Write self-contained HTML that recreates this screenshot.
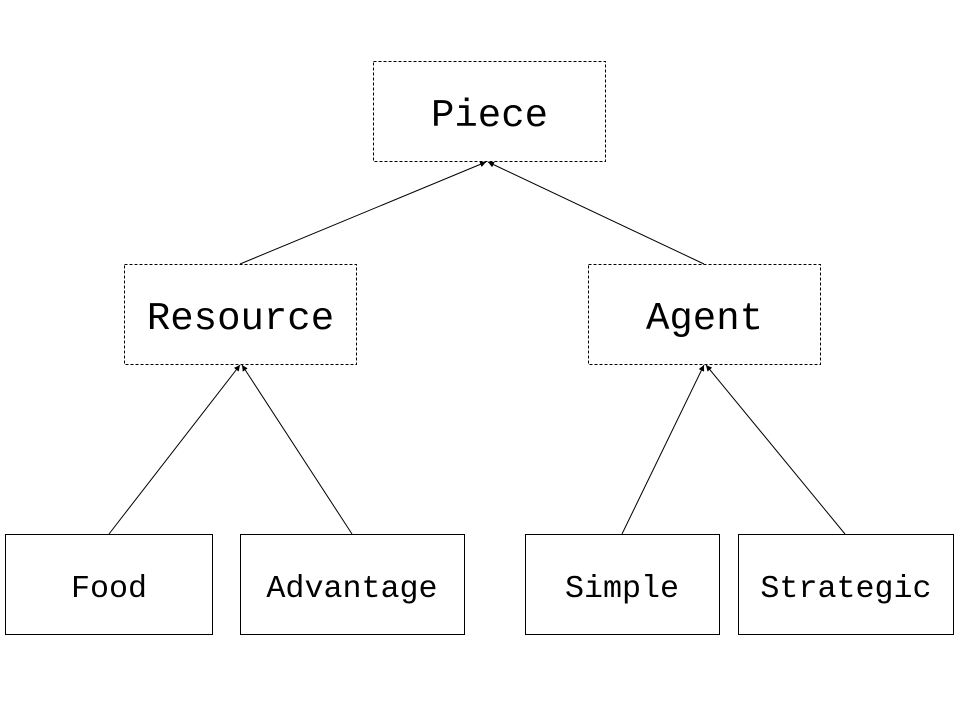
<!DOCTYPE html>
<html><head><style>body{margin:0;background:#fff}</style></head><body>
<svg width="960" height="720" xmlns="http://www.w3.org/2000/svg" font-family="Liberation Mono, monospace">
<defs><marker id="a" markerWidth="6" markerHeight="6" refX="6" refY="3" orient="auto" markerUnits="userSpaceOnUse"><path d="M0,0L6,3L0,6z" fill="#000"/></marker></defs>
<rect width="960" height="720" fill="#fff"/>
<g fill="none" stroke="#000" stroke-width="1">
<g stroke-dasharray="3,2">
<rect x="373.5" y="61.5" width="232" height="100"/>
<rect x="124.5" y="264.5" width="232" height="100"/>
<rect x="588.5" y="264.5" width="232" height="100"/>
</g>
<rect x="5.5" y="534.5" width="207" height="100"/>
<rect x="240.5" y="534.5" width="224" height="100"/>
<rect x="525.5" y="534.5" width="194" height="100"/>
<rect x="738.5" y="534.5" width="215" height="100"/>
<g marker-end="url(#a)">
<line x1="240" y1="264" x2="486" y2="162"/>
<line x1="704" y1="264" x2="488" y2="162"/>
<line x1="109" y1="534" x2="240" y2="365"/>
<line x1="352" y1="534" x2="242" y2="365"/>
<line x1="622" y1="534" x2="704" y2="365"/>
<line x1="845" y1="534" x2="706" y2="365"/>
</g>
</g>
<g text-anchor="middle" fill="#000">
<text x="489.5" y="126" font-size="39">Piece</text>
<text x="240.5" y="329" font-size="39">Resource</text>
<text x="704.5" y="329" font-size="39">Agent</text>
<g font-size="31.7">
<text x="109" y="597">Food</text>
<text x="352" y="597">Advantage</text>
<text x="622" y="597">Simple</text>
<text x="846" y="597">Strategic</text>
</g>
</g>
</svg>
</body></html>
